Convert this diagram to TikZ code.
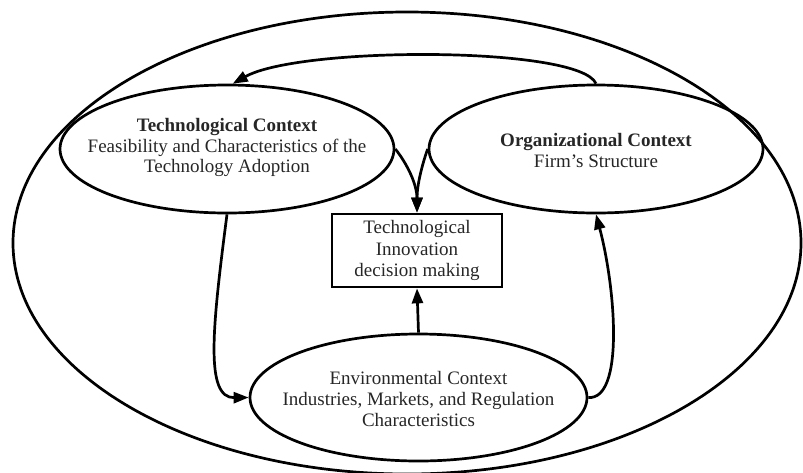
\documentclass[tikz,border=0pt]{standalone}
\usepackage{fontspec}
\setmainfont{Liberation Serif}
\usetikzlibrary{shapes.geometric,arrows.meta}
\begin{document}
\begin{tikzpicture}[x=1pt,y=-1pt,
  ctx/.style={draw, ellipse, line width=2.7pt, inner sep=0pt,
    minimum width=334pt, minimum height=128pt},
  ctxtext/.style={align=center, inner sep=0pt,
    font=\fontsize{19}{20.8}\selectfont, text=black!85},
  decision/.style={draw, rectangle, line width=2.7pt, inner sep=0pt,
    minimum width=170pt, minimum height=73pt, align=center,
    font=\fontsize{19}{21.5}\selectfont, text=black!85},
  link/.style={line width=2.7pt, -{Triangle[length=15pt,width=11pt]}}]
\useasboundingbox (0,0) rectangle (803,472);

% enclosing boundary
\node[draw, ellipse, line width=2.7pt, minimum width=788pt, minimum height=462pt, inner sep=0pt] (outer) at (407,243) {};

% the three contexts
\node[ctx] (tech) at (227,149) {};
\node[ctxtext] (techlabel) at (227,147.5) {\textbf{Technological Context}\\Feasibility and Characteristics of the\\Technology Adoption};
\node[ctx] (org) at (596,149) {};
\node[ctxtext] (orglabel) at (596,150.5) {\textbf{Organizational Context}\\Firm’s Structure};
\node[ctx, minimum width=337pt, minimum height=127pt] (env) at (418.5,397.5) {};
\node[ctxtext] (envlabel) at (418.5,399) {Environmental Context\\Industries, Markets, and Regulation\\Characteristics};

% decision box
\node[decision] (box) at (417,250.5) {Technological\\Innovation\\decision making};

% connectors
\draw[link] (org.north) .. controls (580,46) and (300,46) .. (tech.85);
\draw[link] (tech.east) .. controls (408,165) and (417,185) .. (box.north);
\draw[link] (org.west) .. controls (422,165) and (417,185) .. (box.north);
\draw[link] (env.north) -- (box.south);
\draw[link] (tech.south) .. controls (212,330) and (205,398) .. (env.west);
\draw[link] (env.east) .. controls (624,400) and (616,290) .. (org.south);
\end{tikzpicture}
\end{document}
